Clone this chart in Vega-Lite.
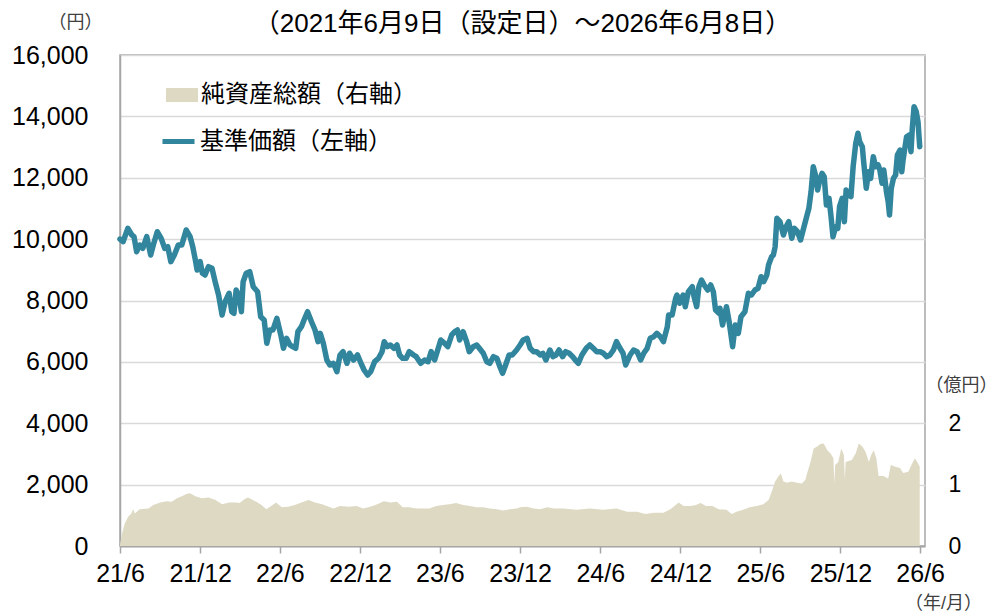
{
  "$schema": "https://vega.github.io/schema/vega-lite/v6.json",
  "width": 805,
  "height": 491,
  "autosize": {"type": "none"},
  "padding": {"left": 120, "top": 55, "right": 74, "bottom": 68},
  "background": "white",
  "config": {
    "font": "Liberation Sans, Noto Sans CJK JP, sans-serif",
    "view": {"stroke": "#A6A6A6", "strokeWidth": 1.5},
    "axis": {"labelColor": "#000000", "labelFontSize": 25, "titleFontWeight": "normal", "titleColor": "#404040", "titleFontSize": 18},
    "legend": {"labelFontSize": 24, "labelColor": "#000000", "labelLimit": 400, "fillColor": "white", "title": null}
  },
  "title": {"text": "（2021年6月9日（設定日）～2026年6月8日）", "fontSize": 26, "fontWeight": "normal", "color": "#000000", "anchor": "middle", "offset": 20, "dy": 44},
  "datasets": {
    "nav": [
      {"d":"2021-06-09","v":10000},{"d":"2021-06-16","v":9916},{"d":"2021-06-27","v":10353},{"d":"2021-07-06","v":10135},{"d":"2021-07-11","v":10079},{"d":"2021-07-17","v":9590},{"d":"2021-07-24","v":9809},{"d":"2021-07-31","v":9701},{"d":"2021-08-09","v":10079},{"d":"2021-08-18","v":9483},{"d":"2021-08-24","v":9809},{"d":"2021-09-02","v":10242},{"d":"2021-09-11","v":10027},{"d":"2021-09-19","v":9701},{"d":"2021-09-26","v":9753},{"d":"2021-10-03","v":9265},{"d":"2021-10-11","v":9483},{"d":"2021-10-20","v":9809},{"d":"2021-10-28","v":9809},{"d":"2021-11-07","v":10297},{"d":"2021-11-16","v":10079},{"d":"2021-11-22","v":9753},{"d":"2021-11-28","v":9320},{"d":"2021-12-02","v":8994},{"d":"2021-12-09","v":9265},{"d":"2021-12-14","v":8887},{"d":"2021-12-20","v":8831},{"d":"2021-12-28","v":9102},
      {"d":"2022-01-05","v":9050},{"d":"2022-01-13","v":8561},{"d":"2022-01-20","v":8179},{"d":"2022-01-28","v":7528},{"d":"2022-02-04","v":7961},{"d":"2022-02-13","v":8235},{"d":"2022-02-19","v":7635},{"d":"2022-02-24","v":7583},{"d":"2022-03-01","v":8342},{"d":"2022-03-08","v":8124},{"d":"2022-03-13","v":7635},{"d":"2022-03-17","v":8613},{"d":"2022-03-24","v":8887},{"d":"2022-04-01","v":8939},{"d":"2022-04-09","v":8450},{"d":"2022-04-19","v":8287},{"d":"2022-04-26","v":7472},{"d":"2022-05-04","v":7365},{"d":"2022-05-10","v":6605},{"d":"2022-05-17","v":7039},{"d":"2022-05-24","v":7039},{"d":"2022-06-02","v":7420},{"d":"2022-06-11","v":6876},{"d":"2022-06-17","v":6442},{"d":"2022-06-24","v":6768},{"d":"2022-07-02","v":6550},{"d":"2022-07-08","v":6495},{"d":"2022-07-15","v":6442},{"d":"2022-07-20","v":6984},{"d":"2022-07-28","v":7146},{"d":"2022-08-03","v":7365},{"d":"2022-08-11","v":7635},{"d":"2022-08-20","v":7309},{"d":"2022-08-28","v":7039},{"d":"2022-09-04","v":6658},{"d":"2022-09-09","v":6931},{"d":"2022-09-16","v":6605},{"d":"2022-09-24","v":6061},{"d":"2022-10-01","v":5898},{"d":"2022-10-09","v":5954},{"d":"2022-10-17","v":5680},{"d":"2022-10-24","v":6224},{"d":"2022-10-31","v":6332},{"d":"2022-11-09","v":5954},{"d":"2022-11-15","v":6280},{"d":"2022-11-24","v":6061},{"d":"2022-12-03","v":6224},{"d":"2022-12-11","v":5954},{"d":"2022-12-18","v":5735},{"d":"2022-12-26","v":5572},
      {"d":"2023-01-02","v":5680},{"d":"2023-01-11","v":6006},{"d":"2023-01-20","v":6117},{"d":"2023-01-28","v":6332},{"d":"2023-02-02","v":6658},{"d":"2023-02-09","v":6495},{"d":"2023-02-16","v":6550},{"d":"2023-02-24","v":6442},{"d":"2023-03-03","v":6550},{"d":"2023-03-09","v":6224},{"d":"2023-03-16","v":6117},{"d":"2023-03-24","v":6117},{"d":"2023-03-31","v":6332},{"d":"2023-04-10","v":6224},{"d":"2023-04-16","v":6169},{"d":"2023-04-26","v":5954},{"d":"2023-05-05","v":6061},{"d":"2023-05-13","v":6006},{"d":"2023-05-20","v":6332},{"d":"2023-05-28","v":6061},{"d":"2023-06-04","v":6387},{"d":"2023-06-11","v":6713},{"d":"2023-06-20","v":6605},{"d":"2023-06-27","v":6495},{"d":"2023-07-06","v":6876},{"d":"2023-07-13","v":6984},{"d":"2023-07-19","v":7039},{"d":"2023-07-24","v":6713},{"d":"2023-08-01","v":6984},{"d":"2023-08-09","v":6658},{"d":"2023-08-15","v":6332},{"d":"2023-08-24","v":6495},{"d":"2023-09-01","v":6550},{"d":"2023-09-07","v":6442},{"d":"2023-09-16","v":6280},{"d":"2023-09-24","v":6006},{"d":"2023-10-01","v":5954},{"d":"2023-10-09","v":6169},{"d":"2023-10-17","v":6117},{"d":"2023-10-24","v":5843},{"d":"2023-10-30","v":5628},{"d":"2023-11-06","v":5898},{"d":"2023-11-14","v":6224},{"d":"2023-11-21","v":6224},{"d":"2023-12-01","v":6387},{"d":"2023-12-09","v":6550},{"d":"2023-12-16","v":6713},{"d":"2023-12-25","v":6768},
      {"d":"2024-01-01","v":6442},{"d":"2024-01-09","v":6332},{"d":"2024-01-16","v":6332},{"d":"2024-01-24","v":6224},{"d":"2024-01-30","v":6280},{"d":"2024-02-06","v":6061},{"d":"2024-02-15","v":6387},{"d":"2024-02-22","v":6169},{"d":"2024-02-29","v":6224},{"d":"2024-03-07","v":6387},{"d":"2024-03-15","v":6169},{"d":"2024-03-22","v":6332},{"d":"2024-03-30","v":6280},{"d":"2024-04-07","v":6169},{"d":"2024-04-13","v":6061},{"d":"2024-04-20","v":5954},{"d":"2024-04-28","v":6224},{"d":"2024-05-08","v":6442},{"d":"2024-05-16","v":6550},{"d":"2024-05-24","v":6442},{"d":"2024-06-01","v":6332},{"d":"2024-06-09","v":6332},{"d":"2024-06-16","v":6280},{"d":"2024-06-24","v":6169},{"d":"2024-07-01","v":6224},{"d":"2024-07-09","v":6387},{"d":"2024-07-16","v":6658},{"d":"2024-07-24","v":6442},{"d":"2024-07-31","v":6280},{"d":"2024-08-06","v":5898},{"d":"2024-08-16","v":6224},{"d":"2024-08-24","v":6387},{"d":"2024-09-01","v":6332},{"d":"2024-09-09","v":6061},{"d":"2024-09-16","v":6280},{"d":"2024-09-24","v":6442},{"d":"2024-10-01","v":6768},{"d":"2024-10-09","v":6821},{"d":"2024-10-16","v":6931},{"d":"2024-10-24","v":6821},{"d":"2024-10-31","v":6658},{"d":"2024-11-09","v":7146},{"d":"2024-11-12","v":7528},{"d":"2024-11-20","v":7528},{"d":"2024-11-28","v":8072},{"d":"2024-12-01","v":8179},{"d":"2024-12-07","v":7909},{"d":"2024-12-15","v":8179},{"d":"2024-12-20","v":7798},{"d":"2024-12-27","v":8287},
      {"d":"2025-01-05","v":8450},{"d":"2025-01-09","v":8124},{"d":"2025-01-15","v":7798},{"d":"2025-01-20","v":8450},{"d":"2025-01-26","v":8668},{"d":"2025-02-01","v":8505},{"d":"2025-02-09","v":8342},{"d":"2025-02-16","v":8505},{"d":"2025-02-22","v":8287},{"d":"2025-02-27","v":7691},{"d":"2025-03-07","v":7583},{"d":"2025-03-09","v":7746},{"d":"2025-03-15","v":7202},{"d":"2025-03-24","v":7798},{"d":"2025-03-30","v":7309},{"d":"2025-04-07","v":6495},{"d":"2025-04-13","v":7202},{"d":"2025-04-20","v":6931},{"d":"2025-04-26","v":7472},{"d":"2025-05-05","v":7635},{"d":"2025-05-13","v":8235},{"d":"2025-05-20","v":8179},{"d":"2025-05-28","v":8342},{"d":"2025-06-04","v":8398},{"d":"2025-06-11","v":8776},{"d":"2025-06-17","v":8613},{"d":"2025-06-24","v":8831},{"d":"2025-06-28","v":9157},{"d":"2025-07-05","v":9428},{"d":"2025-07-09","v":9483},{"d":"2025-07-13","v":9753},{"d":"2025-07-17","v":10679},{"d":"2025-07-24","v":10568},{"d":"2025-08-01","v":10135},{"d":"2025-08-07","v":10405},{"d":"2025-08-13","v":10568},{"d":"2025-08-20","v":10027},{"d":"2025-08-26","v":10353},{"d":"2025-09-02","v":10242},{"d":"2025-09-09","v":9972},{"d":"2025-09-16","v":10353},{"d":"2025-09-22","v":10679},{"d":"2025-09-28","v":11005},{"d":"2025-10-03","v":11546},{"d":"2025-10-08","v":12360},{"d":"2025-10-13","v":12090},{"d":"2025-10-18","v":11601},{"d":"2025-10-22","v":11872},{"d":"2025-10-28","v":12145},{"d":"2025-11-02","v":12035},{"d":"2025-11-07","v":11112},{"d":"2025-11-13","v":11331},{"d":"2025-11-18","v":10679},{"d":"2025-11-22","v":10079},{"d":"2025-11-28","v":10405},{"d":"2025-12-03","v":10353},{"d":"2025-12-07","v":11057},{"d":"2025-12-13","v":11331},{"d":"2025-12-18","v":10568},{"d":"2025-12-22","v":11601},{"d":"2025-12-28","v":11438},
      {"d":"2026-01-02","v":11383},{"d":"2026-01-07","v":12360},{"d":"2026-01-13","v":13123},{"d":"2026-01-18","v":13449},{"d":"2026-01-22","v":13175},{"d":"2026-01-28","v":13012},{"d":"2026-01-31","v":12523},{"d":"2026-02-06","v":11656},{"d":"2026-02-11","v":12197},{"d":"2026-02-16","v":11982},{"d":"2026-02-22","v":12686},{"d":"2026-02-27","v":12360},{"d":"2026-03-05","v":12416},{"d":"2026-03-09","v":12253},{"d":"2026-03-14","v":11819},{"d":"2026-03-18","v":12253},{"d":"2026-03-24","v":11546},{"d":"2026-03-28","v":11220},{"d":"2026-03-31","v":10786},{"d":"2026-04-04","v":11656},{"d":"2026-04-09","v":11982},{"d":"2026-04-14","v":12090},{"d":"2026-04-18","v":12742},{"d":"2026-04-24","v":12904},{"d":"2026-04-28","v":12197},{"d":"2026-05-01","v":12579},{"d":"2026-05-09","v":13338},{"d":"2026-05-15","v":13393},{"d":"2026-05-19","v":12849},{"d":"2026-05-22","v":13612},{"d":"2026-05-26","v":14316},{"d":"2026-05-31","v":14153},{"d":"2026-06-04","v":13827},{"d":"2026-06-08","v":13012}
    ],
    "aum": [
      {"d":"2021-06-09","a":0.03},{"d":"2021-06-14","a":0.21},{"d":"2021-06-20","a":0.37},{"d":"2021-06-28","a":0.48},{"d":"2021-07-05","a":0.53},{"d":"2021-07-09","a":0.6},{"d":"2021-07-13","a":0.53},{"d":"2021-07-24","a":0.6},{"d":"2021-08-13","a":0.61},{"d":"2021-08-24","a":0.67},{"d":"2021-09-09","a":0.71},{"d":"2021-09-24","a":0.73},{"d":"2021-10-05","a":0.72},{"d":"2021-10-17","a":0.78},{"d":"2021-10-28","a":0.81},{"d":"2021-11-09","a":0.85},{"d":"2021-11-16","a":0.86},{"d":"2021-11-28","a":0.81},{"d":"2021-12-13","a":0.78},{"d":"2021-12-28","a":0.79},
      {"d":"2022-01-13","a":0.75},{"d":"2022-01-28","a":0.68},{"d":"2022-02-13","a":0.71},{"d":"2022-02-28","a":0.71},{"d":"2022-03-09","a":0.7},{"d":"2022-03-20","a":0.76},{"d":"2022-03-28","a":0.79},{"d":"2022-04-05","a":0.76},{"d":"2022-04-16","a":0.72},{"d":"2022-04-28","a":0.67},{"d":"2022-05-09","a":0.6},{"d":"2022-05-20","a":0.65},{"d":"2022-05-31","a":0.71},{"d":"2022-06-13","a":0.63},{"d":"2022-06-28","a":0.64},{"d":"2022-07-13","a":0.67},{"d":"2022-07-28","a":0.71},{"d":"2022-08-13","a":0.75},{"d":"2022-08-28","a":0.71},{"d":"2022-09-13","a":0.68},{"d":"2022-09-28","a":0.64},{"d":"2022-10-09","a":0.61},{"d":"2022-10-24","a":0.65},{"d":"2022-11-13","a":0.64},{"d":"2022-12-01","a":0.65},{"d":"2022-12-16","a":0.61},
      {"d":"2023-01-01","a":0.64},{"d":"2023-01-17","a":0.68},{"d":"2023-02-01","a":0.73},{"d":"2023-02-16","a":0.71},{"d":"2023-03-03","a":0.72},{"d":"2023-03-16","a":0.63},{"d":"2023-03-31","a":0.63},{"d":"2023-04-16","a":0.61},{"d":"2023-05-01","a":0.61},{"d":"2023-05-16","a":0.61},{"d":"2023-06-01","a":0.65},{"d":"2023-06-16","a":0.67},{"d":"2023-07-01","a":0.68},{"d":"2023-07-16","a":0.7},{"d":"2023-08-01","a":0.67},{"d":"2023-08-16","a":0.65},{"d":"2023-09-01","a":0.63},{"d":"2023-09-16","a":0.63},{"d":"2023-10-01","a":0.61},{"d":"2023-10-17","a":0.6},{"d":"2023-11-01","a":0.58},{"d":"2023-11-16","a":0.6},{"d":"2023-12-01","a":0.61},{"d":"2023-12-09","a":0.63},{"d":"2023-12-24","a":0.64},
      {"d":"2024-01-09","a":0.61},{"d":"2024-01-24","a":0.6},{"d":"2024-02-09","a":0.63},{"d":"2024-02-24","a":0.61},{"d":"2024-03-16","a":0.61},{"d":"2024-04-16","a":0.59},{"d":"2024-05-16","a":0.61},{"d":"2024-06-16","a":0.59},{"d":"2024-07-16","a":0.61},{"d":"2024-08-09","a":0.56},{"d":"2024-09-01","a":0.56},{"d":"2024-09-20","a":0.52},{"d":"2024-10-09","a":0.54},{"d":"2024-10-31","a":0.54},{"d":"2024-11-16","a":0.6},{"d":"2024-11-28","a":0.67},{"d":"2024-12-05","a":0.71},{"d":"2024-12-16","a":0.65},
      {"d":"2025-01-01","a":0.65},{"d":"2025-01-13","a":0.67},{"d":"2025-01-24","a":0.7},{"d":"2025-02-05","a":0.65},{"d":"2025-02-20","a":0.65},{"d":"2025-03-06","a":0.6},{"d":"2025-03-24","a":0.59},{"d":"2025-04-05","a":0.52},{"d":"2025-04-16","a":0.56},{"d":"2025-05-01","a":0.59},{"d":"2025-05-16","a":0.63},{"d":"2025-06-01","a":0.65},{"d":"2025-06-16","a":0.68},{"d":"2025-06-28","a":0.75},{"d":"2025-07-05","a":0.88},{"d":"2025-07-13","a":1.05},{"d":"2025-07-20","a":1.13},{"d":"2025-07-26","a":1.18},{"d":"2025-08-01","a":1.05},{"d":"2025-08-09","a":1.03},{"d":"2025-08-20","a":1.05},{"d":"2025-09-01","a":1.03},{"d":"2025-09-12","a":1.02},{"d":"2025-09-20","a":1.08},{"d":"2025-09-25","a":1.21},{"d":"2025-10-01","a":1.35},{"d":"2025-10-09","a":1.59},{"d":"2025-10-17","a":1.62},{"d":"2025-10-24","a":1.66},{"d":"2025-11-01","a":1.67},{"d":"2025-11-09","a":1.56},{"d":"2025-11-16","a":1.51},{"d":"2025-11-23","a":1.43},{"d":"2025-11-25","a":1.02},{"d":"2025-11-27","a":1.32},{"d":"2025-12-04","a":1.37},{"d":"2025-12-11","a":1.59},{"d":"2025-12-17","a":1.48},{"d":"2025-12-19","a":1.08},{"d":"2025-12-21","a":1.37},
      {"d":"2026-01-04","a":1.4},{"d":"2026-01-13","a":1.51},{"d":"2026-01-20","a":1.67},{"d":"2026-01-28","a":1.62},{"d":"2026-02-04","a":1.54},{"d":"2026-02-12","a":1.37},{"d":"2026-02-17","a":1.48},{"d":"2026-02-23","a":1.56},{"d":"2026-03-01","a":1.43},{"d":"2026-03-06","a":1.14},{"d":"2026-03-17","a":1.14},{"d":"2026-03-28","a":1.1},{"d":"2026-04-03","a":1.32},{"d":"2026-04-13","a":1.29},{"d":"2026-04-24","a":1.27},{"d":"2026-05-01","a":1.19},{"d":"2026-05-13","a":1.21},{"d":"2026-05-20","a":1.32},{"d":"2026-05-28","a":1.43},{"d":"2026-06-04","a":1.35},{"d":"2026-06-08","a":1.29}
    ]
  },
  "encoding": {
    "x": {
      "field": "d",
      "type": "temporal",
      "scale": {"domain": [{"year": 2021, "month": 6, "date": 9}, {"year": 2026, "month": 6, "date": 20}]},
      "axis": {
        "values": [
          {"year": 2021, "month": 6, "date": 9}, {"year": 2021, "month": 12, "date": 9},
          {"year": 2022, "month": 6, "date": 9}, {"year": 2022, "month": 12, "date": 9},
          {"year": 2023, "month": 6, "date": 9}, {"year": 2023, "month": 12, "date": 9},
          {"year": 2024, "month": 6, "date": 9}, {"year": 2024, "month": 12, "date": 9},
          {"year": 2025, "month": 6, "date": 9}, {"year": 2025, "month": 12, "date": 9},
          {"year": 2026, "month": 6, "date": 9}
        ],
        "format": "%y/%-m",
        "labelFlush": false,
        "labelOverlap": false,
        "labelBound": false,
        "labelPadding": 8,
        "tickSize": 7,
        "tickColor": "#A6A6A6",
        "tickWidth": 1.5,
        "domainColor": "#A6A6A6",
        "domainWidth": 2,
        "grid": false,
        "title": "（年/月）",
        "titleAngle": 0,
        "titleX": 823,
        "titleY": 57,
        "titleAlign": "center",
        "titleBaseline": "middle"
      }
    }
  },
  "layer": [
    {
      "data": {"name": "aum"},
      "mark": {"type": "area", "opacity": 1},
      "encoding": {
        "y": {
          "field": "a",
          "type": "quantitative",
          "scale": {"domain": [0, 8], "nice": false},
          "axis": {
            "orient": "right",
            "values": [0, 1, 2],
            "ticks": false,
            "domain": false,
            "grid": false,
            "labelFontSize": 23,
            "labelPadding": 23,
            "title": "（億円）",
            "titleAngle": 0,
            "titleX": 36,
            "titleY": 330,
            "titleAlign": "center",
            "titleBaseline": "middle"
          }
        },
        "fill": {
          "datum": "純資産総額（右軸）",
          "type": "nominal",
          "scale": {"domain": ["純資産総額（右軸）"], "range": ["#DDD9C3"]},
          "legend": {
            "orient": "none",
            "legendX": 16,
            "legendY": 16,
            "padding": 8,
            "symbolOffset": 22,
            "symbolType": "M-1,-0.44H1V0.44H-1Z",
            "symbolSize": 1024,
            "symbolOpacity": 1,
            "symbolStrokeWidth": 0,
            "labelOffset": 3
          }
        }
      }
    },
    {
      "data": {"name": "nav"},
      "mark": {"type": "line", "strokeWidth": 5.5, "strokeJoin": "round", "strokeCap": "round"},
      "encoding": {
        "y": {
          "field": "v",
          "type": "quantitative",
          "scale": {"domain": [0, 16000], "nice": false},
          "axis": {
            "orient": "left",
            "values": [0, 2000, 4000, 6000, 8000, 10000, 12000, 14000, 16000],
            "format": ",d",
            "ticks": false,
            "domain": true,
            "domainColor": "#A6A6A6",
            "domainWidth": 1.5,
            "grid": true,
            "gridColor": "#D9D9D9",
            "gridWidth": 1.5,
            "labelPadding": 32,
            "title": "（円）",
            "titleAngle": 0,
            "titleX": -45,
            "titleY": -33,
            "titleAlign": "center",
            "titleBaseline": "middle"
          }
        },
        "stroke": {
          "datum": "基準価額（左軸）",
          "type": "nominal",
          "scale": {"domain": ["基準価額（左軸）"], "range": ["#31859C"]},
          "legend": {
            "orient": "none",
            "legendX": 14,
            "legendY": 64,
            "padding": 4,
            "symbolOffset": 22,
            "symbolType": "stroke",
            "symbolSize": 1024,
            "symbolStrokeWidth": 5,
            "symbolOpacity": 1,
            "labelOffset": 3
          }
        }
      }
    }
  ],
  "resolve": {"scale": {"y": "independent"}}
}
